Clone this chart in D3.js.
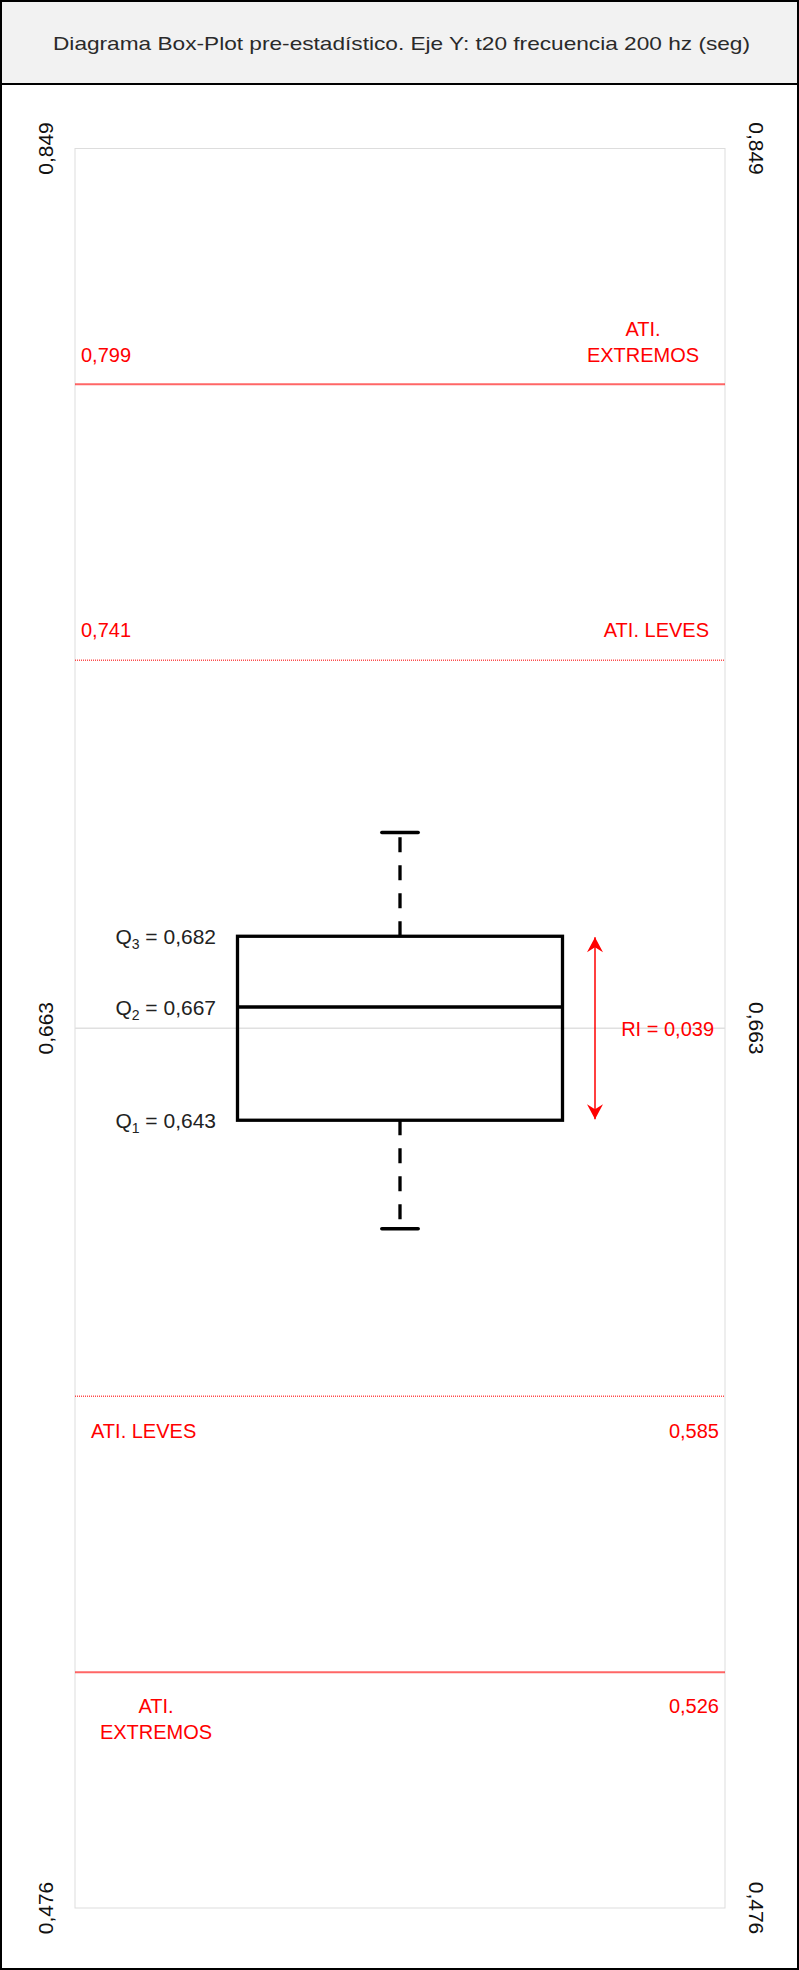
<html>
<head>
	<meta charset="UTF-8">
	<title>Box-Plot pre-estadistico</title>
	<script src="https://cdn.jsdelivr.net/npm/d3@7"></script>
	<style>
		body {
			padding: 0;
			margin: 0;
			background: #ffffff;
		}
		text {
			font-family: "Liberation Sans", Arial, sans-serif;
		}
	</style>
</head>
<body>
	<script>
		// chart values
		var titleText = "Diagrama Box-Plot pre-estadístico. Eje Y: t20 frecuencia 200 hz (seg)";
		var yTicks = [0.476, 0.6625, 0.849];
		var yTickLabels = ["0,476", "0,663", "0,849"];
		var quartileNames = ["1", "2", "3"];
		var quartileValues = [0.643, 0.667, 0.682];
		var quartileLabels = ["0,643", "0,667", "0,682"];
		var whiskerValues = [0.620, 0.704];
		var fenceValues = [0.526, 0.5845, 0.7405, 0.799];
		var fenceLabels = ["0,526", "0,585", "0,741", "0,799"];
		var fenceKinds = ["EXTREMOS", "LEVES", "LEVES", "EXTREMOS"];
		var iqrLabel = "RI = 0,039";

		var w = 799,
			h = 1970;
		var plotLeft = 75,
			plotRight = 725,
			plotTop = 148.5,
			plotBottom = 1908;

		var y = d3.scaleLinear().domain([0.476, 0.849]).range([plotBottom, plotTop]);
		var x = d3.scaleLinear().domain([0, 1]).range([plotLeft, plotRight]);

		var svg = d3.select("body").append("svg")
			.attr("width", w)
			.attr("height", h);

		// outer frame + title band
		svg.append("rect")
			.attr("x", 1).attr("y", 1)
			.attr("width", w - 2).attr("height", h - 2)
			.attr("fill", "#ffffff")
			.attr("stroke", "#000000")
			.attr("stroke-width", 2);
		svg.append("rect")
			.attr("x", 1).attr("y", 1)
			.attr("width", w - 2).attr("height", 83)
			.attr("fill", "#f2f2f2")
			.attr("stroke", "#000000")
			.attr("stroke-width", 2);
		svg.append("text")
			.attr("x", 401.5).attr("y", 50)
			.attr("text-anchor", "middle")
			.attr("font-size", 18.5)
			.attr("fill", "#2a2a2a")
			.attr("textLength", 697)
			.attr("lengthAdjust", "spacingAndGlyphs")
			.text(titleText);

		// plot frame
		svg.append("rect")
			.attr("x", plotLeft).attr("y", plotTop)
			.attr("width", plotRight - plotLeft).attr("height", plotBottom - plotTop)
			.attr("fill", "none")
			.attr("stroke", "#dddddd")
			.attr("stroke-width", 1);

		// middle grid line
		svg.append("line")
			.attr("x1", plotLeft).attr("x2", plotRight)
			.attr("y1", y(yTicks[1])).attr("y2", y(yTicks[1]))
			.attr("stroke", "#e0e0e0")
			.attr("stroke-width", 1.5);

		// rotated tick labels, both sides
		yTicks.forEach(function (v, i) {
			svg.append("text")
				.attr("transform", "translate(45," + y(v) + ") rotate(-90)")
				.attr("text-anchor", "middle")
				.attr("dominant-baseline", "central")
				.attr("font-size", 21)
				.attr("fill", "#111111")
				.text(yTickLabels[i]);
			svg.append("text")
				.attr("transform", "translate(756," + y(v) + ") rotate(90)")
				.attr("text-anchor", "middle")
				.attr("dominant-baseline", "central")
				.attr("font-size", 21)
				.attr("fill", "#111111")
				.text(yTickLabels[i]);
		});

		// fences (atipicos)
		var red = "#ff0000";
		fenceValues.forEach(function (v, i) {
			var ln = svg.append("line")
				.attr("x1", plotLeft).attr("x2", plotRight)
				.attr("y1", y(v)).attr("y2", y(v))
				.attr("stroke", red);
			if (fenceKinds[i] == "EXTREMOS") {
				ln.attr("stroke-width", 2).attr("stroke-opacity", 0.6);
			} else {
				ln.attr("stroke-width", 1.5).attr("stroke-opacity", 0.7)
					.attr("stroke-dasharray", "1,1");
			}
		});

		function redText(xx, yy, anchor, str) {
			return svg.append("text")
				.attr("x", xx).attr("y", yy)
				.attr("text-anchor", anchor)
				.attr("font-size", 20)
				.attr("fill", red)
				.text(str);
		}

		// upper fences: value on the left, kind on the right, above the line
		redText(81, y(fenceValues[3]) - 22, "start", fenceLabels[3]);
		redText(643, y(fenceValues[3]) - 48, "middle", "ATI.");
		redText(643, y(fenceValues[3]) - 22, "middle", "EXTREMOS");
		redText(81, y(fenceValues[2]) - 23, "start", fenceLabels[2]);
		redText(709, y(fenceValues[2]) - 23, "end", "ATI. LEVES");
		// lower fences: kind on the left, value on the right, below the line
		redText(91, y(fenceValues[1]) + 42, "start", "ATI. LEVES");
		redText(719, y(fenceValues[1]) + 42, "end", fenceLabels[1]);
		redText(156, y(fenceValues[0]) + 41, "middle", "ATI.");
		redText(156, y(fenceValues[0]) + 67, "middle", "EXTREMOS");
		redText(719, y(fenceValues[0]) + 41, "end", fenceLabels[0]);

		// whiskers
		var cx = x(0.5);
		svg.append("line")
			.attr("x1", cx).attr("x2", cx)
			.attr("y1", y(quartileValues[2])).attr("y2", y(whiskerValues[1]))
			.attr("stroke", "#000").attr("stroke-width", 3.3)
			.attr("stroke-dasharray", "15,13");
		svg.append("line")
			.attr("x1", cx).attr("x2", cx)
			.attr("y1", y(quartileValues[0])).attr("y2", y(whiskerValues[0]))
			.attr("stroke", "#000").attr("stroke-width", 3.3)
			.attr("stroke-dasharray", "15,13");
		whiskerValues.forEach(function (v) {
			svg.append("line")
				.attr("x1", x(0.472)).attr("x2", x(0.528))
				.attr("y1", y(v)).attr("y2", y(v))
				.attr("stroke", "#000").attr("stroke-width", 3.5)
				.attr("stroke-linecap", "round");
		});

		// box
		svg.append("rect")
			.attr("x", x(0.25)).attr("y", y(quartileValues[2]))
			.attr("width", x(0.75) - x(0.25))
			.attr("height", y(quartileValues[0]) - y(quartileValues[2]))
			.attr("fill", "none")
			.attr("stroke", "#000").attr("stroke-width", 3.3);
		svg.append("line")
			.attr("x1", x(0.25)).attr("x2", x(0.75))
			.attr("y1", y(quartileValues[1])).attr("y2", y(quartileValues[1]))
			.attr("stroke", "#000").attr("stroke-width", 3.3);

		// quartile labels with subscripts
		quartileValues.forEach(function (v, i) {
			var t = svg.append("text")
				.attr("x", 216).attr("y", y(v) + 8)
				.attr("text-anchor", "end")
				.attr("font-size", 21)
				.attr("fill", "#222222");
			t.append("tspan").text("Q");
			t.append("tspan").attr("font-size", 14).attr("dy", 5).text(quartileNames[i]);
			t.append("tspan").attr("dy", -5).text(" = " + quartileLabels[i]);
		});

		// interquartile arrow
		var defs = svg.append("defs");
		defs.append("marker")
			.attr("id", "head")
			.attr("viewBox", "-16 -8 17 16")
			.attr("refX", 0).attr("refY", 0)
			.attr("markerWidth", 17).attr("markerHeight", 16)
			.attr("markerUnits", "userSpaceOnUse")
			.attr("orient", "auto-start-reverse")
			.append("path")
			.attr("d", "M0,0 L-15,-8 L-10,0 L-15,8 Z")
			.attr("fill", red);
		svg.append("line")
			.attr("x1", x(0.8)).attr("x2", x(0.8))
			.attr("y1", y(quartileValues[2]) + 1).attr("y2", y(quartileValues[0]) - 1)
			.attr("stroke", red).attr("stroke-width", 1.5)
			.attr("marker-start", "url(#head)")
			.attr("marker-end", "url(#head)");
		svg.append("text")
			.attr("x", 714).attr("y", y(yTicks[1]) + 8)
			.attr("text-anchor", "end")
			.attr("font-size", 20)
			.attr("fill", red)
			.text(iqrLabel);
	</script>
</body>
</html>
